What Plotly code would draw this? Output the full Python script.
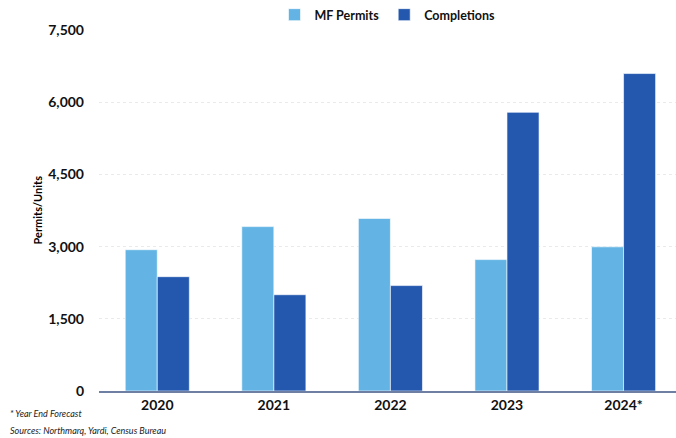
import plotly.graph_objects as go

years = ["2020", "2021", "2022", "2023", "2024*"]
mf_permits = [2935, 3415, 3585, 2730, 2995]
completions = [2375, 2000, 2190, 5790, 6595]
y_ticks = [0, 1500, 3000, 4500, 6000, 7500]

permit_color = "#63B4E4"
completion_color = "#2458AF"
font_family = "Lato, 'Open Sans', sans-serif"

L, R, T, B = 99, 0, 27, 47
W, H = 676, 438

fig = go.Figure()
fig.add_trace(go.Bar(
    x=years, y=mf_permits, name="MF Permits",
    marker=dict(color=permit_color, line=dict(color="rgba(255,255,255,0.6)", width=1)),
))
fig.add_trace(go.Bar(
    x=years, y=completions, name="Completions",
    marker=dict(color=completion_color, line=dict(color="rgba(255,255,255,0.6)", width=1)),
))


def px_x(x):
    return (x - L) / (W - L - R)


def px_y(y):
    return (H - B - y) / (H - T - B)


fig.update_layout(
    width=W, height=H,
    margin=dict(l=L, r=R, t=T, b=B),
    paper_bgcolor="white", plot_bgcolor="white",
    barmode="group", bargap=0.45, bargroupgap=0,
    font=dict(family=font_family, color="#111111"),
    showlegend=True,
    legend=dict(
        orientation="h", x=0.5, xref="paper", xanchor="center",
        y=1.0, yanchor="bottom",
        font=dict(size=12.5, family=font_family, weight="bold"),
        itemwidth=30, traceorder="normal",
    ),
    xaxis=dict(
        range=[-0.5, 4.45],
        showgrid=False, ticks="",
        tickfont=dict(size=14, family=font_family, weight="bold"),
        showline=True, linecolor="#6F7FA3", linewidth=1.5,
    ),
    yaxis=dict(
        range=[0, 7500],
        tickvals=y_ticks, tickformat=",",
        tickfont=dict(size=14, family=font_family, weight="bold"),
        ticks="", ticklabelstandoff=14,
        showgrid=True, gridcolor="#EAEAEA", griddash="dot", gridwidth=1,
        zeroline=False, showline=False,
    ),
    annotations=[
        dict(text="<b>Permits/Units</b>", textangle=-90, x=px_x(37), xref="paper",
             y=0.5, yref="paper", xanchor="center", yanchor="middle", showarrow=False,
             font=dict(size=11, family=font_family, color="#000")),
        dict(text="<i>* Year End Forecast</i>", x=px_x(8), y=px_y(414),
             xref="paper", yref="paper", showarrow=False,
             xanchor="left", yanchor="middle", font=dict(size=9, family=font_family, color="#222")),
        dict(text="<i>Sources: Northmarq, Yardi, Census Bureau</i>", x=px_x(8), y=px_y(431),
             xref="paper", yref="paper", showarrow=False,
             xanchor="left", yanchor="middle", font=dict(size=9, family=font_family, color="#222")),
    ],
)

fig.write_html("out.html")
